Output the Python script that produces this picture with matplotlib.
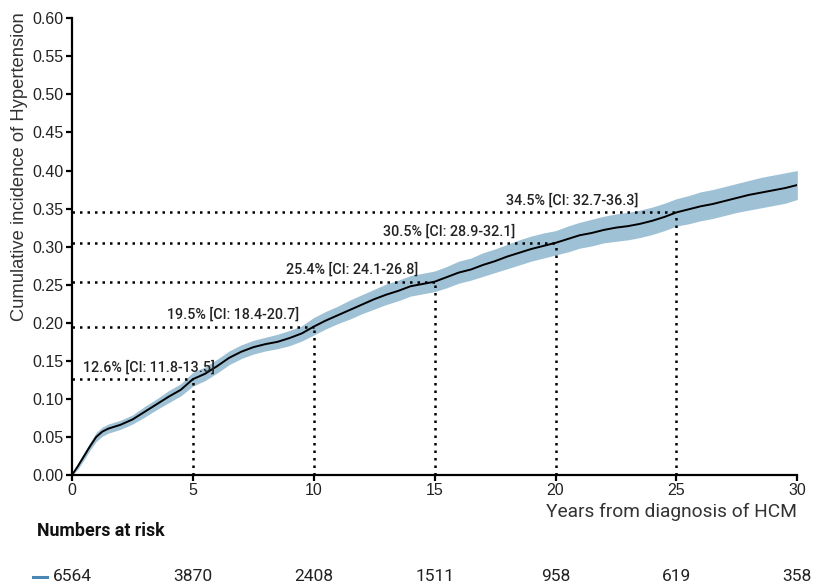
import matplotlib
matplotlib.use("Agg")
import matplotlib.pyplot as plt
from matplotlib.transforms import blended_transform_factory

plt.rcParams['font.family'] = ['Roboto', 'DejaVu Sans']

# cumulative incidence (years, estimate, lower CI, upper CI)
years = [0, 0.25, 0.5, 0.75, 1.0, 1.25, 1.5, 2, 2.5, 3, 3.5, 4, 4.5, 5, 5.5, 6, 6.5,
         7, 7.5, 8, 8.5, 9, 9.5, 10, 10.5, 11, 11.5, 12, 12.5, 13, 13.5, 14, 14.5,
         15, 15.5, 16, 16.5, 17, 17.5, 18, 18.5, 19, 19.5, 20, 20.5, 21, 21.5, 22,
         22.5, 23, 23.5, 24, 24.5, 25, 25.5, 26, 26.5, 27, 27.5, 28, 28.5, 29, 29.5, 30]
cuminc = [0.000, 0.012, 0.025, 0.038, 0.050, 0.057, 0.061, 0.066, 0.073, 0.083, 0.093,
          0.103, 0.112, 0.126, 0.133, 0.143, 0.154, 0.162, 0.168, 0.172, 0.175, 0.180,
          0.186, 0.195, 0.203, 0.210, 0.217, 0.224, 0.231, 0.237, 0.242, 0.248, 0.251,
          0.254, 0.260, 0.266, 0.270, 0.276, 0.281, 0.287, 0.292, 0.297, 0.301, 0.305,
          0.310, 0.315, 0.318, 0.322, 0.325, 0.327, 0.330, 0.334, 0.339, 0.345, 0.349,
          0.353, 0.356, 0.360, 0.364, 0.368, 0.371, 0.374, 0.377, 0.381]
ci_low = [0.000, 0.008, 0.020, 0.033, 0.044, 0.051, 0.055, 0.060, 0.067, 0.076, 0.086,
          0.095, 0.104, 0.117, 0.124, 0.134, 0.145, 0.153, 0.159, 0.163, 0.166, 0.170,
          0.176, 0.184, 0.192, 0.199, 0.205, 0.212, 0.218, 0.224, 0.229, 0.235, 0.238,
          0.241, 0.246, 0.252, 0.256, 0.261, 0.266, 0.271, 0.276, 0.281, 0.285, 0.289,
          0.293, 0.298, 0.301, 0.305, 0.307, 0.309, 0.312, 0.316, 0.321, 0.327, 0.330,
          0.334, 0.337, 0.341, 0.345, 0.348, 0.351, 0.354, 0.357, 0.362]
ci_high = [0.000, 0.016, 0.030, 0.043, 0.056, 0.063, 0.067, 0.072, 0.079, 0.090, 0.100,
           0.111, 0.120, 0.135, 0.142, 0.152, 0.163, 0.171, 0.177, 0.181, 0.185, 0.190,
           0.196, 0.207, 0.215, 0.222, 0.230, 0.237, 0.244, 0.251, 0.256, 0.262, 0.265,
           0.268, 0.274, 0.281, 0.285, 0.292, 0.297, 0.303, 0.309, 0.314, 0.318, 0.321,
           0.327, 0.332, 0.336, 0.340, 0.343, 0.345, 0.348, 0.352, 0.357, 0.363, 0.367,
           0.372, 0.375, 0.379, 0.383, 0.387, 0.391, 0.394, 0.397, 0.400]

# landmark estimates
mark_years = [5, 10, 15, 20, 25]
mark_vals = [0.126, 0.195, 0.254, 0.305, 0.345]
mark_labels = ["12.6% [CI: 11.8-13.5]", "19.5% [CI: 18.4-20.7]", "25.4% [CI: 24.1-26.8]",
               "30.5% [CI: 28.9-32.1]", "34.5% [CI: 32.7-36.3]"]
label_x = [3.2, 6.65, 11.6, 15.6, 20.7]

# risk table
risk_years = [0, 5, 10, 15, 20, 25, 30]
at_risk = [6564, 3870, 2408, 1511, 958, 619, 358]

fig = plt.figure(figsize=(8.15, 5.88), dpi=100)
ax = fig.add_axes([0.0883, 0.192, 0.8900, 0.777])

band = "#9fc1d6"
ax.fill_between(years, ci_low, ci_high, color=band, lw=0)
ax.plot(years, cuminc, color='black', lw=1.4)

dot = (0, (1, 2))
for yr, v, lab, lx in zip(mark_years, mark_vals, mark_labels, label_x):
    ax.plot([0, yr], [v, v], color='black', lw=1.8, linestyle=dot)
    ax.plot([yr, yr], [0, v], color='black', lw=1.8, linestyle=dot)
    ax.text(lx, v + 0.006, lab, ha='center', va='bottom', fontsize=10.3,
            fontweight='medium', color='#222222')

ax.set_xlim(0, 30)
ax.set_ylim(0, 0.6)
ax.set_xticks(range(0, 31, 5))
ax.set_yticks([i * 0.05 for i in range(13)])
ax.set_yticklabels([f"{i * 0.05:.2f}" for i in range(13)])
for lbl in ax.get_xticklabels() + ax.get_yticklabels():
    lbl.set_family('Liberation Sans')
    lbl.set_fontsize(11.5)
    lbl.set_color('#222222')

ax.spines['top'].set_visible(False)
ax.spines['right'].set_visible(False)
ax.spines['left'].set_linewidth(1.6)
ax.spines['bottom'].set_linewidth(1.6)
ax.tick_params(width=1.6, length=4, direction='out', pad=2)

ax.set_ylabel("Cumulative incidence of Hypertension", fontsize=13.2, color='#333333',
              family='Liberation Sans')
ax.yaxis.set_label_coords(-0.06, 0.675)
fig.text(0.978, 0.129, "Years from diagnosis of HCM", ha='right', va='center',
         fontsize=13.8, color='#333333')

fig.text(0.045, 0.097, "Numbers at risk", ha='left', va='center', fontsize=12.8,
         fontweight='bold', color='#111111')

trans = blended_transform_factory(ax.transData, fig.transFigure)
for yr, n in zip(risk_years, at_risk):
    ax.text(yr, 0.019, str(n), transform=trans, ha='center', va='center',
            fontsize=12.5, color='#222222', clip_on=False)
fig.add_artist(plt.Line2D([0.041, 0.058], [0.019, 0.019], color='#4a86b4', lw=2.2,
                          transform=fig.transFigure))

fig.savefig("out.png", dpi=100)
